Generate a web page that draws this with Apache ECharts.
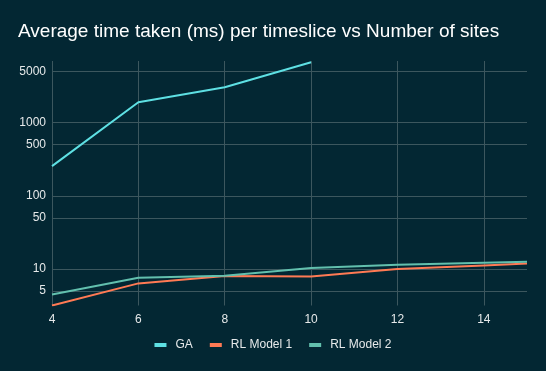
<!DOCTYPE html>
<html>
<head>
<meta charset="utf-8">
<style>
html,body{margin:0;padding:0;background:#032733;}
#chart{width:546px;height:371px;}
</style>
<script src="https://cdn.jsdelivr.net/npm/echarts@6/dist/echarts.min.js"></script>
</head>
<body>
<div id="chart"></div>
<script>
const titleText = "Average time taken (ms) per timeslice vs Number of sites";
const seriesNames = ["GA", "RL Model 1", "RL Model 2"];
const gaX = [4, 6, 8, 10];
const gaY = [254, 1890, 3030, 6650];
const rl1X = [4, 6, 8, 10, 12, 14, 15];
const rl1Y = [3.18, 6.37, 8.03, 7.92, 10.0, 11.2, 11.9];
const rl2X = [4, 6, 8, 10, 12, 14, 15];
const rl2Y = [4.5, 7.6, 8.1, 10.3, 11.4, 12.2, 12.6];
const xTicks = [4, 6, 8, 10, 12, 14];
const yTicks = [5, 10, 50, 100, 500, 1000, 5000];
const yMin = 3.18, yMax = 6900;

const lg = v => Math.log10(v);
const pairs = (xs, ys) => xs.map((x, i) => [x, lg(ys[i])]);
const colors = ["#5ee0e3", "#ff7a54", "#62c0ae"];
const textColor = "#e6e9ea";
const gridColor = "#3c575e";
const font = "Liberation Sans";
const yTickLog = yTicks.map(lg);

const chart = echarts.init(document.getElementById('chart'));
chart.setOption({
  backgroundColor: "#032733",
  animation: false,
  title: {
    text: titleText, left: 13, top: 17,
    textStyle: {color: "#ffffff", fontFamily: font, fontSize: 19, fontWeight: "normal"}
  },
  legend: {
    bottom: 15, left: 'center',
    itemWidth: 12, itemHeight: 4, itemGap: 17,
    icon: 'rect',
    textStyle: {color: textColor, fontFamily: font, fontSize: 12, padding: [0, 0, 0, 4]},
    data: seriesNames
  },
  grid: {left: 52, right: 19, top: 61, bottom: 65.5, containLabel: false},
  xAxis: {
    type: 'value', min: 4, max: 15, interval: 2,
    axisLine: {show: false}, axisTick: {show: false, customValues: xTicks},
    axisLabel: {color: textColor, fontFamily: font, fontSize: 12, margin: 8, customValues: xTicks},
    splitLine: {show: true, lineStyle: {color: gridColor, width: 1}}
  },
  yAxis: {
    type: 'value', min: lg(yMin), max: lg(yMax),
    axisLine: {show: false}, axisTick: {show: false, customValues: yTickLog},
    axisLabel: {color: textColor, fontFamily: font, fontSize: 12, margin: 6, customValues: yTickLog,
      formatter: v => String(Math.round(Math.pow(10, v)))},
    splitLine: {show: true, lineStyle: {color: gridColor, width: 1}}
  },
  series: [
    {name: seriesNames[0], type: 'line', data: pairs(gaX, gaY), showSymbol: false, lineStyle: {width: 2, color: colors[0]}, itemStyle: {color: colors[0]}},
    {name: seriesNames[1], type: 'line', data: pairs(rl1X, rl1Y), showSymbol: false, lineStyle: {width: 2, color: colors[1]}, itemStyle: {color: colors[1]}},
    {name: seriesNames[2], type: 'line', data: pairs(rl2X, rl2Y), showSymbol: false, lineStyle: {width: 2, color: colors[2]}, itemStyle: {color: colors[2]}}
  ]
});
</script>
</body>
</html>
